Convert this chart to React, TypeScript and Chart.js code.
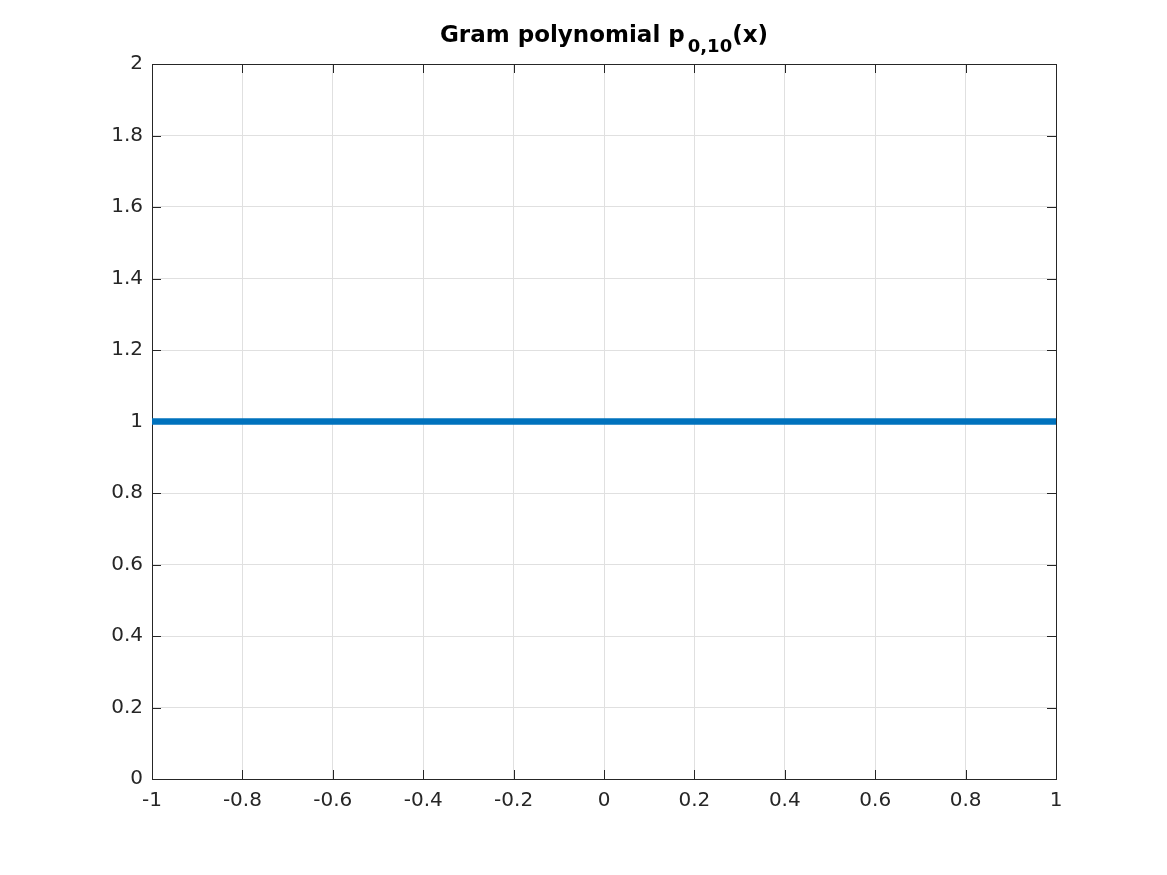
import React, { useEffect, useRef } from "react";
import { Chart, registerables } from "chart.js";

Chart.register(...registerables);

const xValues = [-1, -0.8, -0.6, -0.4, -0.2, 0, 0.2, 0.4, 0.6, 0.8, 1];
const yValues = [1, 1, 1, 1, 1, 1, 1, 1, 1, 1, 1];
const xTickLabels = ["-1", "-0.8", "-0.6", "-0.4", "-0.2", "0", "0.2", "0.4", "0.6", "0.8", "1"];
const yTickLabels = ["0", "0.2", "0.4", "0.6", "0.8", "1", "1.2", "1.4", "1.6", "1.8", "2"];

const FONT = "'DejaVu Sans', sans-serif";
const AXIS_COLOR = "#262626";

const boxPlugin = {
  id: "matlabBox",
  beforeDatasetsDraw(chart: any) {
    const { ctx, chartArea } = chart;
    const { left, right, top, bottom } = chartArea;
    const xs = chart.scales.x;
    const ys = chart.scales.y;
    ctx.save();
    ctx.strokeStyle = AXIS_COLOR;
    ctx.lineWidth = 1;
    const tl = 9;
    ctx.beginPath();
    xs.ticks.forEach((t: any) => {
      const px = Math.round(xs.getPixelForValue(t.value)) + 0.5;
      ctx.moveTo(px, bottom);
      ctx.lineTo(px, bottom - tl);
      ctx.moveTo(px, top);
      ctx.lineTo(px, top + tl);
    });
    ys.ticks.forEach((t: any) => {
      const py = Math.round(ys.getPixelForValue(t.value)) + 0.5;
      ctx.moveTo(left, py);
      ctx.lineTo(left + tl, py);
      ctx.moveTo(right, py);
      ctx.lineTo(right - tl, py);
    });
    ctx.stroke();
    ctx.strokeRect(Math.round(left) + 0.5, Math.round(top) + 0.5, Math.round(right - left), Math.round(bottom - top));
    ctx.restore();
  },
  afterDraw(chart: any) {
    const { ctx, chartArea } = chart;
    const { left, right } = chartArea;
    ctx.save();
    const main1 = "Gram polynomial p";
    const sub = "0,10";
    const main2 = "(x)";
    const bigFont = `bold 23px ${FONT}`;
    const smallFont = `bold 18px ${FONT}`;
    ctx.font = bigFont;
    const w1 = ctx.measureText(main1).width;
    const w3 = ctx.measureText(main2).width;
    ctx.font = smallFont;
    const w2 = ctx.measureText(sub).width;
    const gap = 3;
    const total = w1 + gap + w2 + w3;
    const cx = (left + right) / 2;
    let x = cx - total / 2;
    const baseline = 42;
    ctx.fillStyle = "#000000";
    ctx.textBaseline = "alphabetic";
    ctx.textAlign = "left";
    ctx.font = bigFont;
    ctx.fillText(main1, x, baseline);
    x += w1 + gap;
    ctx.font = smallFont;
    ctx.fillText(sub, x, baseline + 10);
    x += w2;
    ctx.font = bigFont;
    ctx.fillText(main2, x, baseline);
    ctx.restore();
  },
};

export default function App() {
  const ref = useRef<HTMLCanvasElement | null>(null);
  useEffect(() => {
    if (!ref.current) return;
    const chart = new Chart(ref.current, {
      type: "line",
      data: {
        datasets: [
          {
            data: xValues.map((x, i) => ({ x, y: yValues[i] })),
            borderColor: "#0072BD",
            borderWidth: 6.5,
            pointRadius: 0,
            fill: false,
            tension: 0,
          },
        ],
      },
      options: {
        responsive: false,
        animation: false,
        layout: { padding: { top: 64, right: 111, left: 0, bottom: 0 } },
        plugins: { legend: { display: false }, title: { display: false }, tooltip: { enabled: false } },
        scales: {
          x: {
            type: "linear",
            min: -1,
            max: 1,
            afterFit: (s: any) => {
              s.height = 96;
            },
            afterBuildTicks: (s: any) => {
              s.ticks = xValues.map((v) => ({ value: v }));
            },
            grid: { color: "#e0e0e0", drawTicks: false, lineWidth: 1 },
            border: { display: false },
            ticks: {
              padding: 10,
              autoSkip: false,
              maxRotation: 0,
              color: AXIS_COLOR,
              font: { family: FONT, size: 20 },
              callback: (_v: any, i: number) => xTickLabels[i],
            },
          },
          y: {
            type: "linear",
            min: 0,
            max: 2,
            afterFit: (s: any) => {
              s.width = 152;
            },
            afterBuildTicks: (s: any) => {
              s.ticks = yTickLabels.map((l) => ({ value: parseFloat(l) }));
            },
            grid: { color: "#e0e0e0", drawTicks: false, lineWidth: 1 },
            border: { display: false },
            ticks: {
              padding: 9,
              autoSkip: false,
              color: AXIS_COLOR,
              font: { family: FONT, size: 20 },
              callback: (_v: any, i: number) => yTickLabels[i],
            },
          },
        },
      },
      plugins: [boxPlugin],
    });
    return () => chart.destroy();
  }, []);
  return (
    <div style={{ position: "absolute", left: 0, top: 0, width: 1167, height: 875, background: "#ffffff" }}>
      <canvas ref={ref} width={1167} height={875} style={{ display: "block" }} />
    </div>
  );
}
